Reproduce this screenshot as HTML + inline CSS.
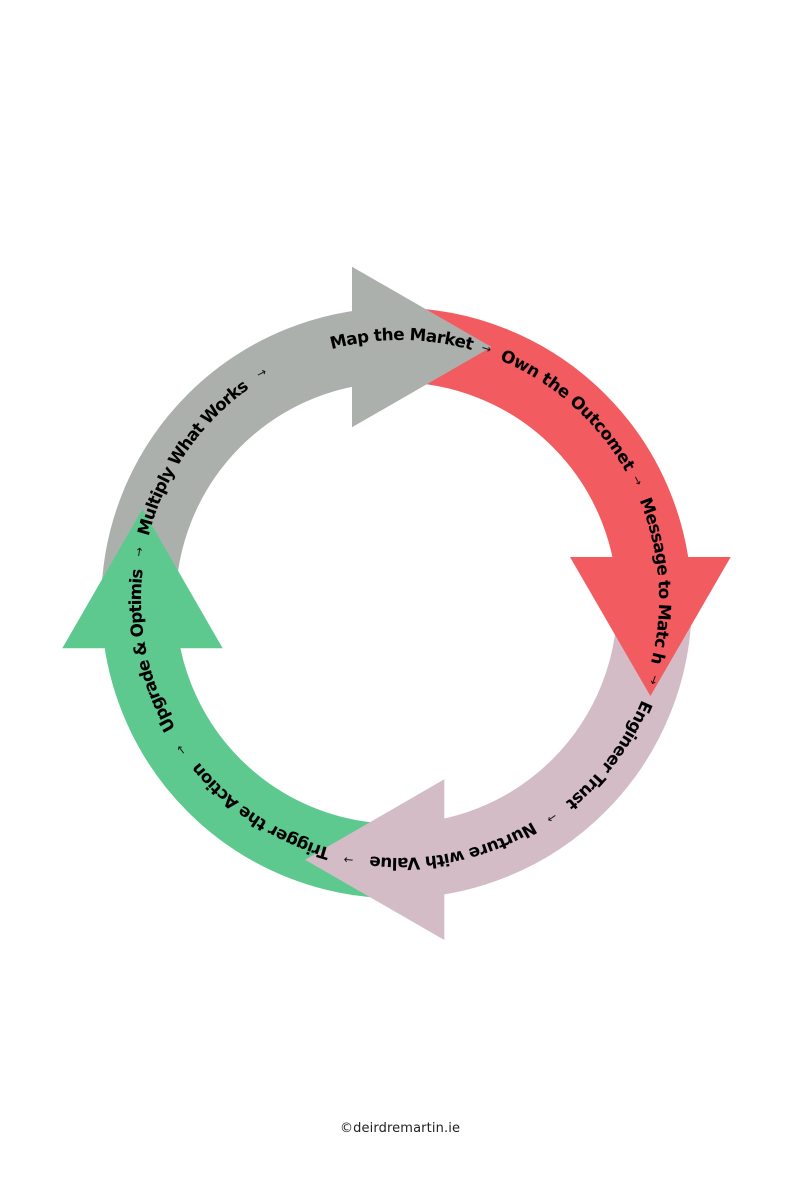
<!DOCTYPE html>
<html>
<head>
<meta charset="utf-8">
<style>
html,body{margin:0;padding:0;background:#fff;width:800px;height:1200px;overflow:hidden}
svg{display:block}
.l{font-family:"DejaVu Sans","Liberation Sans",sans-serif;font-weight:bold;font-size:16.8px;fill:#000}
.a{font-family:"DejaVu Sans","Liberation Sans",sans-serif;font-size:11.5px;fill:#111}
.f{font-family:"DejaVu Sans","Liberation Sans",sans-serif;font-size:13px;fill:#222}
</style>
</head>
<body>
<svg width="800" height="1200" viewBox="0 0 800 1200" xmlns="http://www.w3.org/2000/svg">
<defs>
<path id="c" d="M400,340 A259,259 0 1 1 399.9,340" fill="none"/>
</defs>
<rect width="800" height="1200" fill="#fff"/>
<!-- bands -->
<g fill="none" stroke-width="74.5">
<path d="M396.5,345 A258,258 0 0 1 654.5,603" stroke="#F25B60"/>
<path d="M654.5,603 A258,258 0 0 1 396.5,861" stroke="#D3BCC6"/>
<path d="M396.5,861 A258,258 0 0 1 138.5,603" stroke="#5DC98F"/>
<path d="M138.5,603 A258,258 0 0 1 396.5,345" stroke="#ABB0AD"/>
</g>
<!-- heads -->
<polygon points="352,266.7 352,427.3 491.5,347" fill="#ABB0AD"/>
<polygon points="570,557 730.7,557 650.4,696" fill="#F25B60"/>
<polygon points="444.3,779.3 444.3,940 305,859.7" fill="#D3BCC6"/>
<polygon points="62.3,648.3 222.7,648.3 142.5,509" fill="#5DC98F"/>
<!-- labels -->
<g transform="rotate(-15.3 400 599)"><text class="l"><textPath href="#c" textLength="142" lengthAdjust="spacing">Map the Market</textPath></text></g>
<g transform="rotate(22.6 400 599)"><text class="l"><textPath href="#c" textLength="172" lengthAdjust="spacing">Own the Outcomet</textPath></text></g>
<g transform="rotate(67.6 400 599)"><text class="l"><textPath href="#c" textLength="166" lengthAdjust="spacing">Message to Matc h</textPath></text></g>
<g transform="rotate(112.6 400 599)"><text class="l" dy="-3"><textPath href="#c" textLength="128" lengthAdjust="spacing">Engineer Trust</textPath></text></g>
<g transform="rotate(149.3 400 599)"><text class="l"><textPath href="#c" textLength="169" lengthAdjust="spacing">Nurture with Value</textPath></text></g>
<g transform="rotate(195.6 400 599)"><text class="l"><textPath href="#c" textLength="160" lengthAdjust="spacing">Trigger the Action</textPath></text></g>
<g transform="rotate(240.1 400 599)"><text class="l"><textPath href="#c" textLength="165" lengthAdjust="spacing">Upgrade &amp; Optimis</textPath></text></g>
<g transform="rotate(284 400 599)"><text class="l"><textPath href="#c" textLength="183" lengthAdjust="spacing">Multiply What Works</textPath></text></g>
<!-- small arrows -->
<text class="a" text-anchor="middle" dy=".33em" transform="translate(486.5,348.5) rotate(17)">→</text>
<text class="a" text-anchor="middle" dy=".33em" transform="translate(637.5,480.5) rotate(62)">→</text>
<text class="a" text-anchor="middle" dy=".33em" transform="translate(654,680) rotate(110)">→</text>
<text class="a" text-anchor="middle" dy=".33em" transform="translate(552,818) rotate(145)">→</text>
<text class="a" text-anchor="middle" dy=".33em" transform="translate(348.5,860) rotate(185)">→</text>
<text class="a" text-anchor="middle" dy=".33em" transform="translate(181,750) rotate(232)">→</text>
<text class="a" text-anchor="middle" dy=".33em" transform="translate(139,552) rotate(278)">→</text>
<text class="a" text-anchor="middle" dy=".33em" transform="translate(261.5,373) rotate(332)">→</text>
<!-- footer -->
<text class="f" x="400" y="1132" text-anchor="middle" textLength="120" lengthAdjust="spacing">©deirdremartin.ie</text>
</svg>
</body>
</html>
